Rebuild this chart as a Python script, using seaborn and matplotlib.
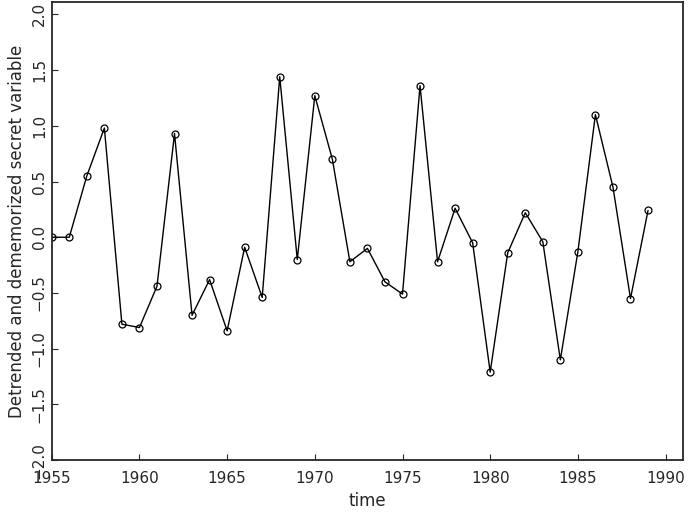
import numpy as np
import matplotlib
matplotlib.use("Agg")
import matplotlib.pyplot as plt
import seaborn as sns

years = list(range(1955, 1990))
values = [0.0, 0.0, 0.55, 0.98, -0.78, -0.81, -0.44, 0.93, -0.70, -0.38,
          -0.84, -0.09, -0.54, 1.44, -0.20, 1.27, 0.70, -0.22, -0.10, -0.40,
          -0.51, 1.36, -0.22, 0.26, -0.05, -1.21, -0.14, 0.22, -0.04, -1.10,
          -0.13, 1.10, 0.45, -0.55, 0.24]

sns.set_style("ticks")
plt.rcParams['font.family'] = ['DejaVu Sans']

fig = plt.figure(figsize=(6.9, 5.13), dpi=100)
ax = fig.add_axes([0.075, 0.103, 0.915, 0.893])
sns.lineplot(x=years, y=values, ax=ax, color="black", lw=1,
             marker="o", markersize=5, markerfacecolor="none",
             markeredgecolor="black", markeredgewidth=0.9)
ax.set_xlim(1955, 1991)
ax.set_ylim(-2.0, 2.11)
ax.set_xticks([1955, 1960, 1965, 1970, 1975, 1980, 1985, 1990])
ticks = np.arange(-2.0, 2.01, 0.5)
ax.set_yticks(ticks)
ax.set_yticklabels([f"{v:.1f}".replace("-", "\u2212") for v in ticks],
                   rotation=90, va="center")
ax.tick_params(axis="x", pad=8)
ax.tick_params(direction="in", length=4, labelsize=11, top=False, right=False)
for s in ax.spines.values():
    s.set_linewidth(1.3)
ax.set_xlabel("time", fontsize=12)
ax.set_ylabel("Detrended and dememorized secret variable", fontsize=12)
fig.savefig("out.png")
